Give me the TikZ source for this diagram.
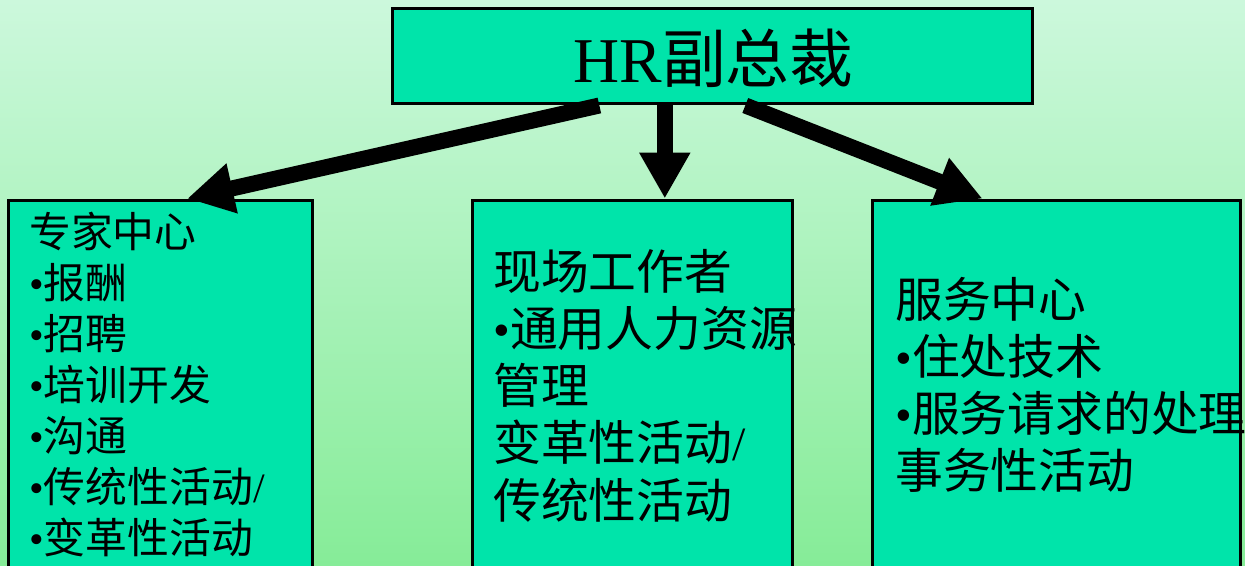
\documentclass[tikz,border=0pt]{standalone}
\usepackage{fontspec}
\setmainfont{Liberation Serif}
\newfontfamily\cjk{Noto Sans CJK SC}
\usetikzlibrary{arrows.meta,calc}
\definecolor{bgtop}{RGB}{204,248,220}
\definecolor{bgbot}{RGB}{134,236,152}
\definecolor{boxfill}{RGB}{0,228,170}
\begin{document}
\begin{tikzpicture}[x=0.02cm,y=-0.02cm,
  box/.style={draw=black, line width=0.06cm, fill=boxfill, rectangle, inner sep=0},
  txt/.style={anchor=base west, inner sep=0, text=black},
  small/.style={font=\fontsize{23.8}{28}\selectfont},
  big/.style={font=\fontsize{27.2}{32}\selectfont},
  arr/.style={line width=0.32cm, draw=black, -{Triangle[length=0.92cm,width=0.96cm]}}]
\useasboundingbox (0,0) rectangle (1245,565);
\clip (0,0) rectangle (1245,565);
\shade[top color=bgtop,bottom color=bgbot] (0,0) rectangle (1245,565);
% boxes
\node[box, minimum width=12.8cm, minimum height=1.92cm] (vp) at (712.5,56) {};
\node[box, minimum width=6.1cm, minimum height=8cm] (exp) at (160.5,400) {};
\node[box, minimum width=6.4cm, minimum height=8cm] (field) at (632.5,400) {};
\node[box, minimum width=7.37cm, minimum height=8cm] (svc) at (1056.75,400) {};
% title
\node[txt, anchor=base, font=\fontsize{36.3}{40}\selectfont] (vpt) at (713.5,82) {HR{\cjk 副总裁}};
% left box text
\foreach \t [count=\i from 0] in {{{\cjk 专家中心}}, {•{\cjk 报酬}}, {•{\cjk 招聘}}, {•{\cjk 培训开发}}, {•{\cjk 沟通}}, {•{\cjk 传统性活动}/}, {•{\cjk 变革性活动}}}
  \node[txt, small] (e\i) at (29,{247+51.1*\i}) {\t};
% middle box text
\foreach \t [count=\i from 0] in {{{\cjk 现场工作者}}, {•{\cjk 通用人力资源}}, {{\cjk 管理}}, {{\cjk 变革性活动}/}, {{\cjk 传统性活动}}}
  \node[txt, big] (f\i) at (493,{289+57.3*\i}) {\t};
% right box text
\foreach \t [count=\i from 0] in {{{\cjk 服务中心}}, {•{\cjk 住处技术}}, {•{\cjk 服务请求的处理}}, {{\cjk 事务性活动}}}
  \node[txt, big] (s\i) at (895,{317+57.3*\i}) {\t};
% arrows
\coordinate (aL) at ($(vp.south west)!0.324!(vp.south east)$);
\coordinate (aM) at ($(vp.south west)!0.4258!(vp.south east)$);
\coordinate (aR) at ($(vp.south west)!0.551!(vp.south east)$);
\draw[arr] (aL) -- ($(exp.north west)!0.587!(exp.north east)$);
\draw[arr] (aM) -- (aM |- field.north);
\draw[arr] (aR) -- ($(svc.north west)!0.30!(svc.north east)$);
\end{tikzpicture}
\end{document}
